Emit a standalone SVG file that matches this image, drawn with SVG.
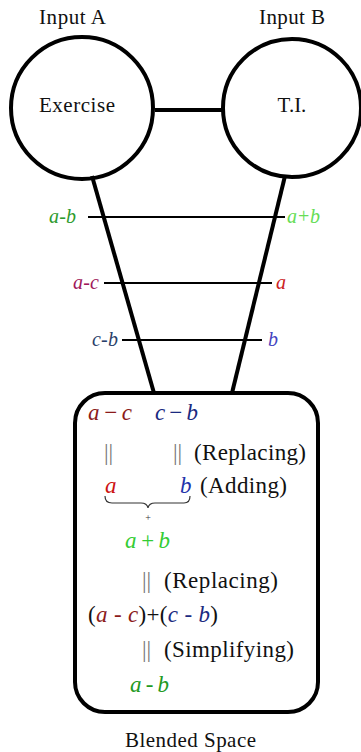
<svg xmlns="http://www.w3.org/2000/svg" width="361" height="752" viewBox="0 0 361 752" font-family="Liberation Serif, DejaVu Serif, serif">
<style>
.t{font-size:21px;fill:#111}
.b{font-size:23px;fill:#111}
.m{font-style:italic;font-size:20px}
.mb{font-style:italic;font-size:23px}
.bar{font-size:23px;fill:#777}
.thick{stroke:#000;stroke-width:4;fill:none}
.thin{stroke:#000;stroke-width:2.2;fill:none}
</style>
<rect width="361" height="752" fill="#fff"/>
<g id="connectors">
<line class="thick" x1="155" y1="110" x2="223" y2="110"/>
<line class="thick" x1="92" y1="176" x2="154" y2="393"/>
<line class="thick" x1="285" y1="176" x2="232" y2="393"/>
<line class="thin" x1="88" y1="217" x2="285" y2="217"/>
<line class="thin" x1="104" y1="283" x2="272" y2="283"/>
<line class="thin" x1="122" y1="340" x2="262" y2="340"/>
</g>
<g id="inputA">
<text class="t" x="39" y="24" textLength="67">Input A</text>
<circle class="thick" cx="82" cy="108" r="71" fill="#fff"/>
<text class="t" x="39" y="112" textLength="76">Exercise</text>
</g>
<g id="inputB">
<text class="t" x="259" y="24" textLength="66">Input B</text>
<circle class="thick" cx="292" cy="108" r="69" fill="#fff"/>
<text class="t" x="292" y="112" text-anchor="middle">T.I.</text>
</g>
<g id="labels">
<text class="m" x="49" y="223" textLength="27" fill="#2e9b2e">a-b</text>
<text class="m" x="287" y="223" textLength="33" fill="#66dd55">a+b</text>
<text class="m" x="73" y="289" textLength="26" fill="#a0185a">a-c</text>
<text class="m" x="276" y="289" fill="#cc2222">a</text>
<text class="m" x="92" y="346" textLength="26" fill="#2a3f6a">c-b</text>
<text class="m" x="268" y="346" fill="#4444c0">b</text>
</g>
<g id="blended">
<rect class="thick" x="75" y="393" width="243" height="319" rx="30" fill="#fff"/>
<text class="mb" x="88" y="420" textLength="44" fill="#8b1a1a">a − c</text>
<text class="mb" x="155" y="420" textLength="43" fill="#1a2a80">c − b</text>
<text class="bar" x="104" y="460">||</text>
<text class="bar" x="173" y="460">||</text>
<text class="b" x="194" y="460" textLength="112">(Replacing)</text>
<text class="mb" x="105" y="493" fill="#cc1111">a</text>
<text class="mb" x="180" y="493" fill="#2233aa">b</text>
<text class="b" x="200" y="493" textLength="87">(Adding)</text>
<path d="M105,496 Q105,503 112,503 L141,503 Q147,503 148,508 Q149,503 155,503 L184,503 Q190,503 190,496" fill="none" stroke="#333" stroke-width="1.2"/>
<text x="148" y="521" text-anchor="middle" style="font-size:10px;fill:#333">+</text>
<text class="mb" x="125" y="548" textLength="45" fill="#33cc33">a + b</text>
<text class="bar" x="142" y="588">||</text>
<text class="b" x="164" y="588" textLength="114">(Replacing)</text>
<text class="b" x="88" y="622" textLength="130">(<tspan class="mb" fill="#8b1a1a">a - c</tspan>)+(<tspan class="mb" fill="#1a2a80">c - b</tspan>)</text>
<text class="bar" x="142" y="657">||</text>
<text class="b" x="164" y="657" textLength="130">(Simplifying)</text>
<text class="mb" x="130" y="692" textLength="39" fill="#229922">a - b</text>
<text class="t" x="125" y="747" textLength="131">Blended Space</text>
</g>
</svg>
